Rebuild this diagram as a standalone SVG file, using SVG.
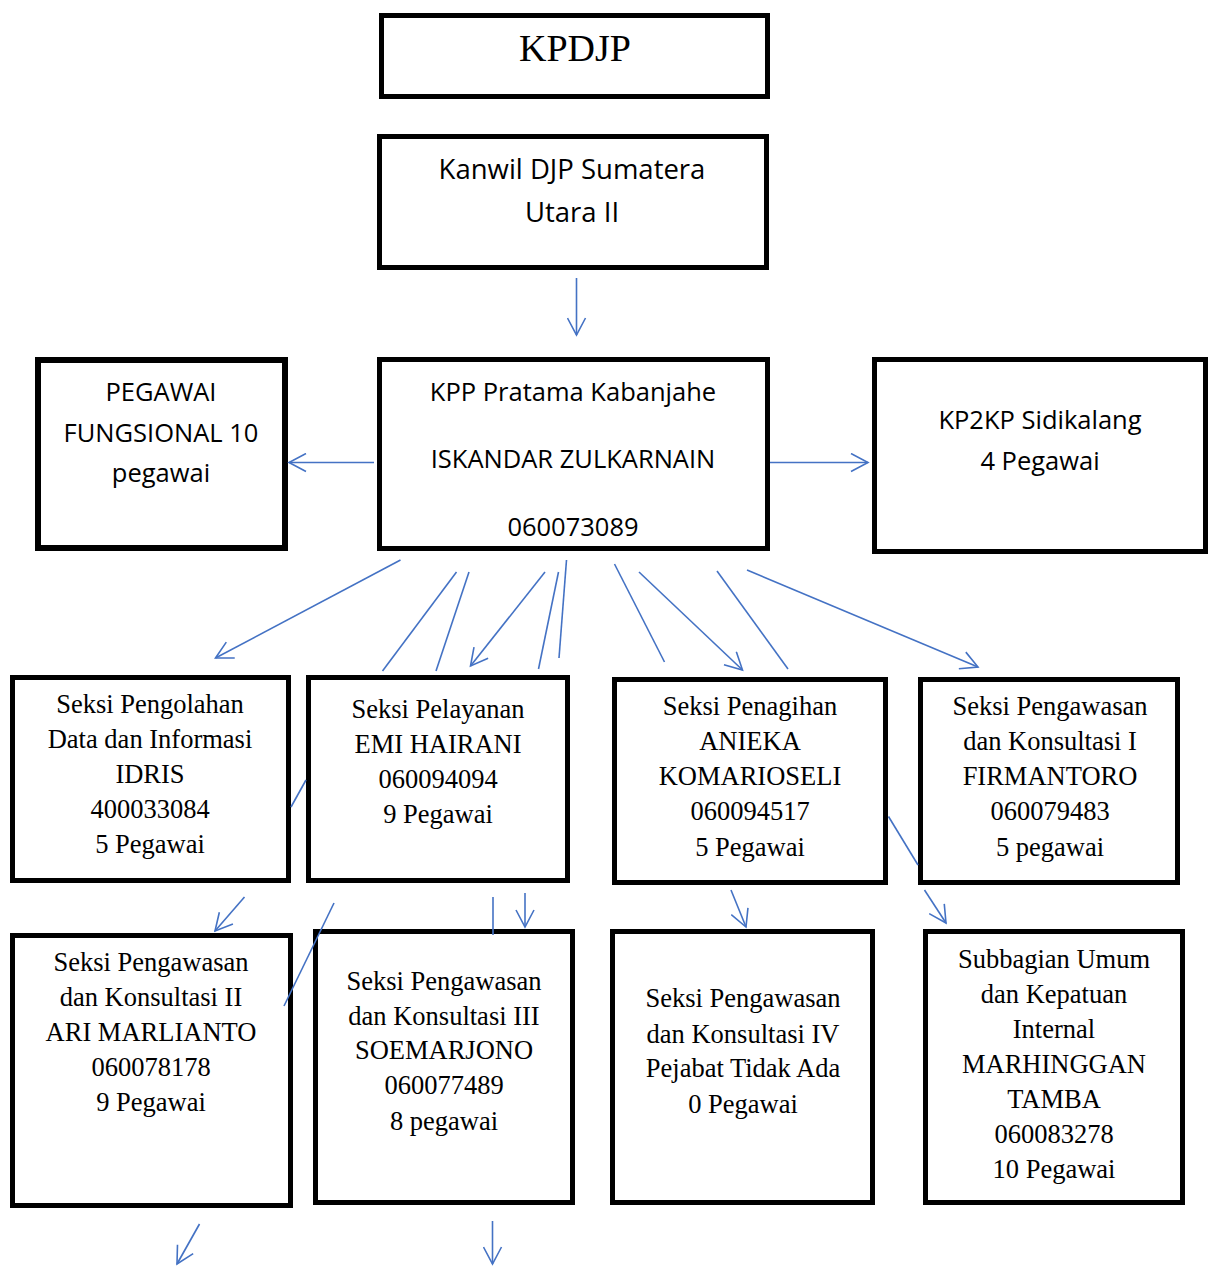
<svg xmlns="http://www.w3.org/2000/svg" width="1214" height="1266" viewBox="0 0 1214 1266">
<style>
.box{fill:#fff;stroke:#000;stroke-width:5}
.thick{stroke-width:6}
.sans{font-family:"Open Sans","Noto Sans",sans-serif;font-size:25.5px;fill:#000;text-anchor:middle}
.serif{font-family:"Liberation Serif","Times New Roman",serif;font-size:26.5px;fill:#000;text-anchor:middle}
.conn line{stroke:#4472C4;stroke-width:1.6;fill:none}
.arr{marker-end:url(#ah)}
</style>
<defs>
<marker id="ah" viewBox="0 0 20 20" refX="18" refY="10" markerWidth="20" markerHeight="20" markerUnits="userSpaceOnUse" orient="auto">
<path d="M1,1 L18,10 L1,19" fill="none" stroke="#4472C4" stroke-width="1.6"/>
</marker>
</defs>
<rect width="1214" height="1266" fill="#fff"/>

<g id="kpdjp">
<rect class="box" x="381.5" y="15.5" width="386" height="81"/>
<text class="serif" x="575" y="61" style="font-size:38px">KPDJP</text>
</g>

<g id="kanwil">
<rect class="box" x="379.5" y="136.5" width="387" height="131"/>
<text class="sans" x="572" y="179" style="font-size:27.5px">Kanwil DJP Sumatera</text>
<text class="sans" x="572" y="222" style="font-size:27.5px">Utara II</text>
</g>

<g id="pegawai-fungsional">
<rect class="box thick" x="38" y="360" width="247" height="188"/>
<text class="sans" x="161" y="401">PEGAWAI</text>
<text class="sans" x="161" y="442">FUNGSIONAL 10</text>
<text class="sans" x="161" y="482">pegawai</text>
</g>

<g id="kpp">
<rect class="box" x="379.5" y="359.5" width="388" height="189"/>
<text class="sans" x="573" y="401">KPP Pratama Kabanjahe</text>
<text class="sans" x="573" y="468">ISKANDAR ZULKARNAIN</text>
<text class="sans" x="573" y="536">060073089</text>
</g>

<g id="kp2kp">
<rect class="box" x="874.5" y="359.5" width="331" height="192"/>
<text class="sans" x="1040" y="429">KP2KP Sidikalang</text>
<text class="sans" x="1040" y="470">4 Pegawai</text>
</g>

<g id="seksi-pengolahan">
<rect class="box" x="12.5" y="677.5" width="276" height="203"/>
<text class="serif" x="150" y="713">Seksi Pengolahan</text>
<text class="serif" x="150" y="748">Data dan Informasi</text>
<text class="serif" x="150" y="783">IDRIS</text>
<text class="serif" x="150" y="818">400033084</text>
<text class="serif" x="150" y="853">5 Pegawai</text>
</g>

<g id="seksi-pelayanan">
<rect class="box" x="308.5" y="677.5" width="259" height="203"/>
<text class="serif" x="438" y="718">Seksi Pelayanan</text>
<text class="serif" x="438" y="753">EMI HAIRANI</text>
<text class="serif" x="438" y="788">060094094</text>
<text class="serif" x="438" y="823">9 Pegawai</text>
</g>

<g id="seksi-penagihan">
<rect class="box" x="614.5" y="679.5" width="271" height="203"/>
<text class="serif" x="750" y="715">Seksi Penagihan</text>
<text class="serif" x="750" y="750">ANIEKA</text>
<text class="serif" x="750" y="785">KOMARIOSELI</text>
<text class="serif" x="750" y="820">060094517</text>
<text class="serif" x="750" y="856">5 Pegawai</text>
</g>

<g id="seksi-pk1">
<rect class="box" x="920.5" y="679.5" width="257" height="203"/>
<text class="serif" x="1050" y="715">Seksi Pengawasan</text>
<text class="serif" x="1050" y="750">dan Konsultasi I</text>
<text class="serif" x="1050" y="785">FIRMANTORO</text>
<text class="serif" x="1050" y="820">060079483</text>
<text class="serif" x="1050" y="856">5 pegawai</text>
</g>

<g id="seksi-pk2">
<rect class="box" x="12.5" y="935.5" width="278" height="270"/>
<text class="serif" x="151" y="971">Seksi Pengawasan</text>
<text class="serif" x="151" y="1006">dan Konsultasi II</text>
<text class="serif" x="151" y="1041">ARI MARLIANTO</text>
<text class="serif" x="151" y="1076">060078178</text>
<text class="serif" x="151" y="1111">9 Pegawai</text>
</g>

<g id="seksi-pk3">
<rect class="box" x="315.5" y="931.5" width="257" height="271"/>
<text class="serif" x="444" y="990">Seksi Pengawasan</text>
<text class="serif" x="444" y="1025">dan Konsultasi III</text>
<text class="serif" x="444" y="1059">SOEMARJONO</text>
<text class="serif" x="444" y="1094">060077489</text>
<text class="serif" x="444" y="1130">8 pegawai</text>
</g>

<g id="seksi-pk4">
<rect class="box" x="612.5" y="931.5" width="260" height="271"/>
<text class="serif" x="743" y="1007">Seksi Pengawasan</text>
<text class="serif" x="743" y="1043">dan Konsultasi IV</text>
<text class="serif" x="743" y="1077">Pejabat Tidak Ada</text>
<text class="serif" x="743" y="1113">0 Pegawai</text>
</g>

<g id="subbagian-umum">
<rect class="box" x="925.5" y="931.5" width="257" height="271"/>
<text class="serif" x="1054" y="968">Subbagian Umum</text>
<text class="serif" x="1054" y="1003">dan Kepatuan</text>
<text class="serif" x="1054" y="1038">Internal</text>
<text class="serif" x="1054" y="1073">MARHINGGAN</text>
<text class="serif" x="1054" y="1108">TAMBA</text>
<text class="serif" x="1054" y="1143">060083278</text>
<text class="serif" x="1054" y="1178">10 Pegawai</text>
</g>

<g id="connectors" class="conn">
<line class="arr" x1="576.5" y1="278" x2="576.5" y2="335"/>
<line class="arr" x1="374" y1="462.5" x2="289" y2="462.5"/>
<line class="arr" x1="770" y1="462.5" x2="868" y2="462.5"/>

<line class="arr" x1="400.5" y1="560" x2="215.5" y2="658"/>
<line x1="456.5" y1="572" x2="382.5" y2="671"/>
<line x1="469" y1="572" x2="436" y2="671"/>
<line class="arr" x1="545" y1="572" x2="470.5" y2="666"/>
<line x1="558.5" y1="572" x2="538.5" y2="669"/>
<line x1="566.5" y1="560" x2="559" y2="658"/>
<line x1="614.5" y1="564" x2="664.5" y2="662"/>
<line class="arr" x1="639" y1="572" x2="742.5" y2="670"/>
<line x1="717" y1="571" x2="788" y2="669"/>
<line class="arr" x1="747" y1="570" x2="978" y2="667"/>

<line x1="291" y1="807" x2="306" y2="780"/>
<line x1="888.5" y1="816.5" x2="918" y2="865"/>

<line class="arr" x1="244.5" y1="897" x2="215" y2="931"/>
<line x1="334" y1="903" x2="284" y2="1006"/>
<line x1="493" y1="897" x2="493" y2="935"/>
<line class="arr" x1="525" y1="893" x2="525" y2="927"/>
<line class="arr" x1="731" y1="890" x2="746" y2="927"/>
<line class="arr" x1="924.5" y1="890" x2="946" y2="923"/>

<line class="arr" x1="199.5" y1="1224" x2="177" y2="1264"/>
<line class="arr" x1="492.5" y1="1221" x2="492.5" y2="1264"/>
</g>
</svg>
